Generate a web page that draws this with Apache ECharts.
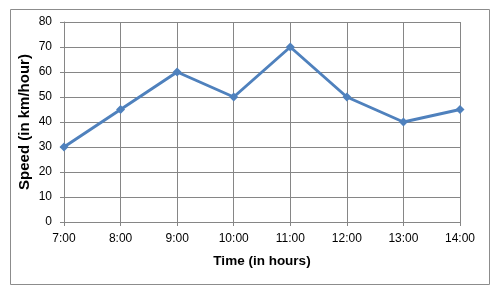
<!DOCTYPE html>
<html><head><meta charset="utf-8">
<script src="https://cdn.jsdelivr.net/npm/echarts@6/dist/echarts.min.js"></script>
<style>html,body{margin:0;padding:0;background:#fff;}#c{width:500px;height:296px;}</style>
</head><body><div id="c"></div>
<script>
var categories = ['7:00','8:00','9:00','10:00','11:00','12:00','13:00','14:00'];
var speeds = [30,45,60,50,70,50,40,45];
var yMin = 0, yMax = 80, yStep = 10;

var chart = echarts.init(document.getElementById('c'));
var gridColor = '#868686';
var font = 'Liberation Sans, Arial, sans-serif';
chart.setOption({
  animation: false,
  graphic: [{type:'rect', shape:{x:10.5,y:9.5,width:479,height:275}, style:{fill:'none', stroke:'#8c8c8c', lineWidth:1}, silent:true}],
  grid: {left:64, right:40, top:22, bottom:74},
  xAxis: {
    type:'category', data:categories, boundaryGap:false,
    name:'Time (in hours)', nameLocation:'middle', nameGap:32,
    nameTextStyle:{fontFamily:font, fontWeight:'bold', fontSize:13.5, color:'#000'},
    axisLine:{lineStyle:{color:gridColor}},
    axisTick:{show:true, length:4, lineStyle:{color:gridColor}},
    axisLabel:{fontFamily:font, fontSize:12, color:'#000', margin:11},
    splitLine:{show:true, lineStyle:{color:gridColor, width:1}}
  },
  yAxis: {
    type:'value', min:yMin, max:yMax, interval:yStep,
    name:'Speed (in km/hour)', nameLocation:'middle', nameGap:32, nameRotate:90, nameMoveOverlap:false,
    nameTextStyle:{fontFamily:font, fontWeight:'bold', fontSize:15, color:'#000'},
    axisLine:{show:true, lineStyle:{color:gridColor}},
    axisTick:{show:true, length:4, lineStyle:{color:gridColor}},
    axisLabel:{fontFamily:font, fontSize:12, color:'#000', margin:12},
    splitLine:{show:true, lineStyle:{color:gridColor, width:1}}
  },
  series: [{
    type:'line', data:speeds, symbol:'diamond', symbolSize:9,
    lineStyle:{color:'#4F81BD', width:3},
    itemStyle:{color:'#4F81BD'}
  }]
});
</script></body></html>
